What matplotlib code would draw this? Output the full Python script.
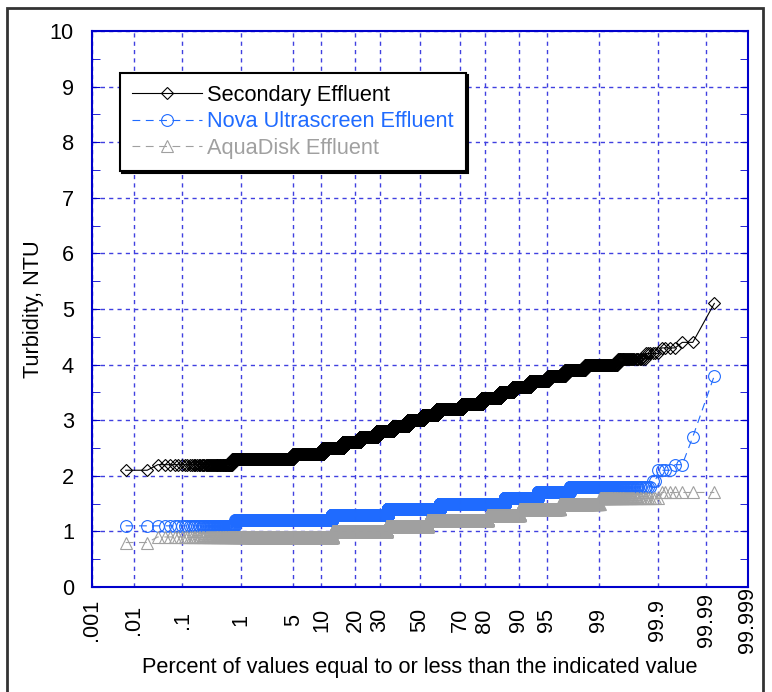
import matplotlib
matplotlib.use("Agg")
import matplotlib.pyplot as plt
from matplotlib.patches import Rectangle
from statistics import NormalDist
import numpy as np

# turbidity levels (NTU) and number of readings at each level
sec_levels = [2.1, 2.2, 2.3, 2.4, 2.5, 2.6, 2.7, 2.8, 2.9, 3.0, 3.1, 3.2, 3.3,
              3.4, 3.5, 3.6, 3.7, 3.8, 3.9, 4.0, 4.1, 4.2, 4.3, 4.4, 5.1]
sec_counts = [2, 54, 324, 418, 422, 456, 542, 576, 579, 598, 554, 924, 634,
              470, 275, 285, 217, 141, 106, 84, 26, 6, 4, 2, 1]

nova_levels = [1.1, 1.2, 1.3, 1.4, 1.5, 1.6, 1.7, 1.8, 1.9, 2.1, 2.2, 2.7, 3.8]
nova_counts = [62, 910, 1637, 2032, 2024, 554, 284, 187, 2, 4, 2, 1, 1]

aqua_levels = [0.8, 0.9, 1.0, 1.1, 1.2, 1.3, 1.4, 1.5, 1.6, 1.7]
aqua_counts = [2, 991, 1579, 1598, 2081, 704, 481, 190, 67, 7]

pct_ticks = [0.001, 0.01, 0.1, 1, 5, 10, 20, 30, 50, 70, 80, 90, 95, 99,
             99.9, 99.99, 99.999]
pct_labels = ['.001', '.01', '.1', '1', '5', '10', '20', '30', '50', '70',
              '80', '90', '95', '99', '99.9', '99.99', '99.999']

nd = NormalDist()
FS = 15.7


def prob_points(levels, counts):
    vals = np.repeat(levels, counts)
    n = len(vals)
    pos = [nd.inv_cdf((i - 0.5) / n) for i in range(1, n + 1)]
    return np.array(pos), vals


plt.rcParams['font.family'] = ['Liberation Sans', 'DejaVu Sans']

fig = plt.figure(figsize=(7.72, 6.92), dpi=100)
ax = fig.add_axes([92 / 772, 1 - 587 / 692, 656 / 772, 556 / 692])

blue = '#1f6bff'
gray = '#a0a0a0'

x, y = prob_points(sec_levels, sec_counts)
ax.plot(x, y, color='black', lw=0.8, marker='D', ms=5.8, mfc='none',
        mec='black', mew=0.8, label='Secondary Effluent')
x, y = prob_points(nova_levels, nova_counts)
ax.plot(x, y, color=blue, lw=0.8, dashes=(7, 5), marker='o', ms=8.5,
        mfc='none', mec=blue, mew=0.8, label='Nova Ultrascreen Effluent')
x, y = prob_points(aqua_levels, aqua_counts)
ax.plot(x, y, color=gray, lw=0.8, dashes=(7, 5), marker='^', ms=9,
        mfc='none', mec=gray, mew=0.8, label='AquaDisk Effluent')

zt = [nd.inv_cdf(p / 100) for p in pct_ticks]
ax.set_xlim(zt[0], zt[-1])
ax.set_ylim(0, 10)
ax.set_xticks(zt)
ax.set_xticklabels(pct_labels, rotation=90, va='center', ha='center')
ax.set_yticks(range(11))
ax.set_yticks(np.arange(0.5, 10, 1), minor=True)

ax.tick_params(axis='x', length=0, pad=24, labelsize=FS)
ax.tick_params(axis='y', which='both', direction='in', length=6,
               color='#0000cc', right=True, labelsize=FS, pad=13)

ax.grid(True, color='#4040e0', lw=1, linestyle=(0, (3, 3)))
for s in ax.spines.values():
    s.set_color('#0000cc')
    s.set_linewidth(1.5)

ax.set_xlabel('Percent of values equal to or less than the indicated value',
              fontsize=FS, va='center')
ax.xaxis.set_label_coords(0.5, (587 - 668) / 556)
ax.set_ylabel('Turbidity, NTU', fontsize=FS, va='center')
ax.yaxis.set_label_coords((33 - 92) / 656, 0.5)

leg = ax.legend(loc='upper left', bbox_to_anchor=((120 - 92) / 656, (587 - 73) / 556),
                borderaxespad=0, fontsize=FS, fancybox=False, framealpha=1,
                edgecolor='black', handlelength=3.2, handletextpad=0.25,
                labelspacing=0.25, borderpad=0.55, numpoints=1,
                labelcolor='linecolor',
                shadow={'color': 'black', 'alpha': 1, 'ox': 1.5, 'oy': -1.5})
leg.get_frame().set_linewidth(1.5)

fig.patches.append(Rectangle((6.5 / 772, -0.01), (763 - 6.5) / 772,
                             1.01 - 7.5 / 692, transform=fig.transFigure,
                             fill=False, edgecolor='#333333', lw=2))

fig.savefig('out.png', dpi=100)
